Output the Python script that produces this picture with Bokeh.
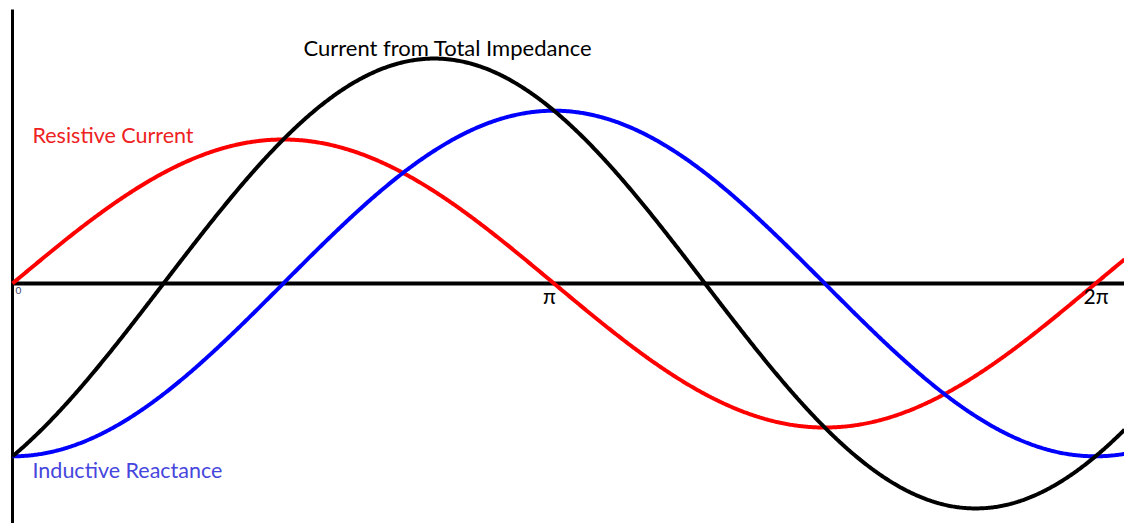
import numpy as np
from bokeh.plotting import figure
from bokeh.models import Range1d
from bokeh.core.properties import value
from bokeh.embed import file_html
from bokeh.resources import INLINE

# ---- data ----
series_names = ["Resistive Current", "Inductive Reactance", "Current from Total Impedance"]
resistive_amplitude = [1.0]      # peak of the red curve (sin)
inductive_amplitude = [1.2]      # peak of the blue curve (-cos, lagging by 90 deg)
tick_labels = ["0", "π", "2π"]
tick_positions = [0.0, np.pi, 2 * np.pi]

# ---- view ----
W, H = 1124, 523
x_start, x_end = -0.0696, 6.4513
y_start, y_end = -1.6667, 1.9653
dy = 0.0556  # text baseline correction

x = np.linspace(0.0, x_end, 900)
resistive = resistive_amplitude[0] * np.sin(x)
inductive = -inductive_amplitude[0] * np.cos(x)
total = resistive + inductive

p = figure(width=W, height=H, output_backend="svg", toolbar_location=None,
           x_range=Range1d(x_start, x_end), y_range=Range1d(y_start, y_end),
           min_border=0, min_border_left=0, min_border_right=0,
           min_border_top=0, min_border_bottom=0)
p.axis.visible = False
p.grid.visible = False
p.outline_line_color = None
p.background_fill_color = "white"
p.border_fill_color = "white"

# axes lines
p.segment(x0=[0], y0=[y_start], x1=[0], y1=[1.9028], line_color="black", line_width=3)
p.segment(x0=[0], y0=[0], x1=[x_end], y1=[0], line_color="black", line_width=4)

# curves
p.line(x, resistive, line_color="#ff0000", line_width=4)
p.line(x, inductive, line_color="#0000ff", line_width=4)
p.line(x, total, line_color="#000000", line_width=4)

font = value("Lato")
# tick labels
p.text(x=[tick_positions[0] + 0.0174], y=[-0.104 + dy], text=[tick_labels[0]], text_font=font,
       text_font_size="10px", text_color="#444466", text_align="left", text_baseline="alphabetic")
p.text(x=[tick_positions[1] - 0.026, tick_positions[2] + 0.003], y=[-0.139 + dy, -0.139 + dy],
       text=tick_labels[1:], text_font=font, text_font_size="21px", text_color="black",
       text_align="center", text_baseline="alphabetic")

# series labels
p.text(x=[1.688], y=[1.583 + dy], text=[series_names[2]], text_font=font, text_font_size="22px",
       text_color="black", text_align="left", text_baseline="alphabetic")
p.text(x=[0.116], y=[0.979 + dy], text=[series_names[0]], text_font=font, text_font_size="21.5px",
       text_color="#ee2222", text_align="left", text_baseline="alphabetic")
p.text(x=[0.116], y=[-1.354 + dy], text=[series_names[1]], text_font=font, text_font_size="21.5px",
       text_color="#4646dd", text_align="left", text_baseline="alphabetic")

open("out.html", "w").write(file_html(p, INLINE))
